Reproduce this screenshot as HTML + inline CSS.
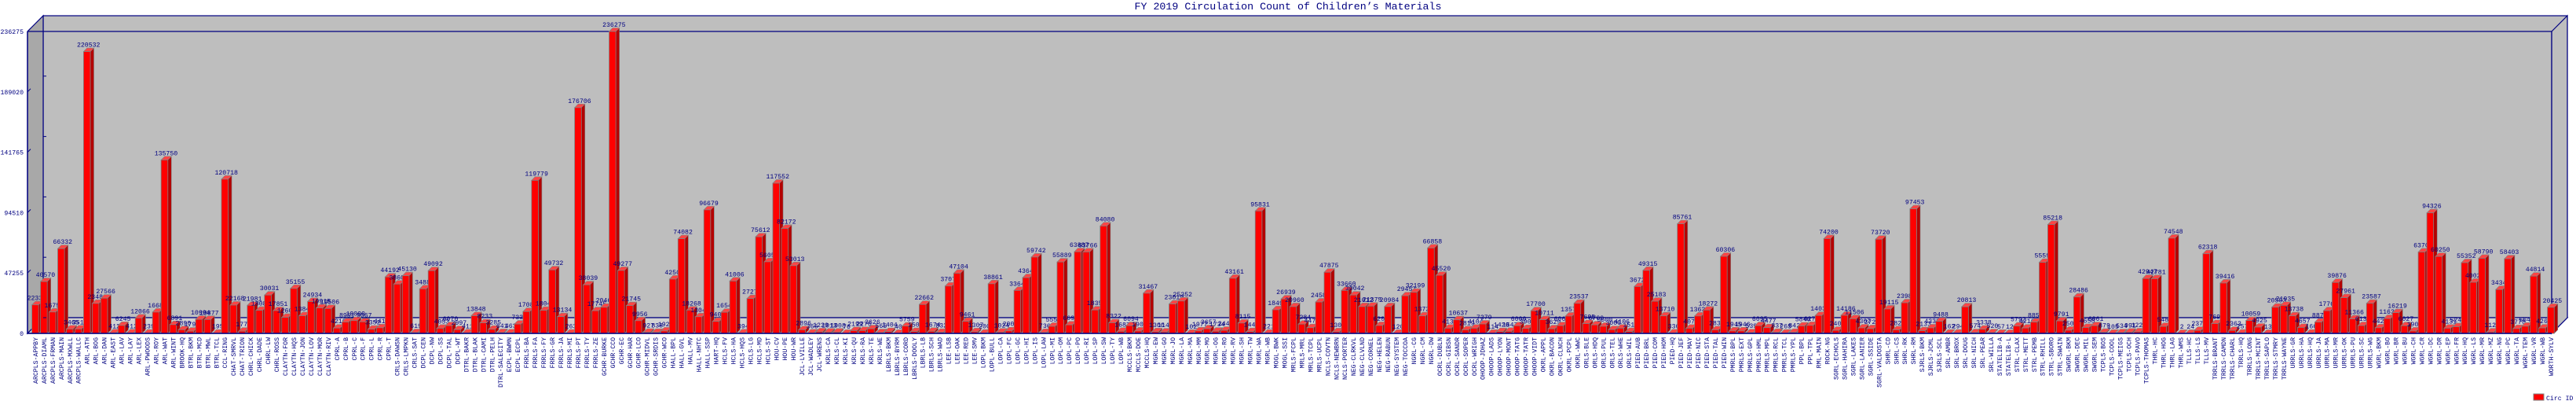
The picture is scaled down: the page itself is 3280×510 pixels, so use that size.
<!DOCTYPE html>
<html><head><meta charset="utf-8"><style>
html,body{margin:0;padding:0;background:#fff;}
svg{display:block;font-family:"Liberation Mono",monospace;}
</style></head><body>
<svg id="chart" width="3280" height="510" viewBox="0 0 3280 510" xmlns="http://www.w3.org/2000/svg">
<text x="1640" y="12" text-anchor="middle" font-size="13.3" fill="#000080">FY 2019 Circulation Count of Children’s Materials</text>
<g id="frame"></g>
<g id="bars"></g>
<g id="axes"></g>
<g>
<rect x="3226" y="501" width="13" height="8" fill="#ff0000" stroke="#808080" stroke-width="1"/>
<text x="3242" y="509" font-size="8.2" fill="#000080">Circ ID</text>
</g>
</svg>
<script>
const categories = ["ARCPLS-APPBY","ARCPLS-DIAML","ARCPLS-FRMAN","ARCPLS-MAIN","ARCPLS-MXWLL","ARCPLS-WALLC","ARL-ATH","ARL-BOG","ARL-DAN","ARL-EAST","ARL-LAV","ARL-LAY","ARL-LEX","ARL-PWOODS","ARL-ROY","ARL-WAT","ARL-WINT","BROOK-HQ","BTRL-BKM","BTRL-MCD","BTRL-MWL","BTRL-TCL","CCL-RING","CHAT-SMRVL","CHAT-TRION","CHRL-CHICK","CHRL-DADE","CHRL-LW","CHRL-ROSS","CLAYTN-FOR","CLAYTN-HQS","CLAYTN-JON","CLAYTN-LOV","CLAYTN-MOR","CLAYTN-RIV","CPRL-A","CPRL-B","CPRL-C","CPRL-F","CPRL-L","CPRL-R","CPRL-T","CRLS-DAWSN","CRLS-LMPKN","CRLS-SAT","DCPL-CEN","DCPL-NW","DCPL-SS","DCPL-TAL","DCPL-WT","DTRL-BAKR","DTRL-BLAK","DTRL-CAMI","DTRL-PELH","DTRL-SALECITY","ECPL-BWMN","ECPL-ECPL","FRRLS-BA","FRRLS-FA","FRRLS-FY","FRRLS-GR","FRRLS-JA","FRRLS-MI","FRRLS-PT","FRRLS-TY","FRRLS-ZE","GCHR-BURKE","GCHR-CCO","GCHR-EC","GCHR-HAR","GCHR-LCO","GCHR-MIDVL","GCHR-SRDIS","GCHR-WCO","HALL-BPL","HALL-GVL","HALL-MV","HALL-NHTC","HALL-SSP","HART-HQ","HCLS-FV","HCLS-HA","HCLS-HQS","HCLS-LG","HCLS-MD","HCLS-ST","HOU-CV","HOU-PE","HOU-WR","JCL-LVILLE","JCL-WADLEY","JCL-WRENS","KRLS-CA","KRLS-CL","KRLS-KI","KRLS-QU","KRLS-RA","KRLS-TE","KRLS-WE","LBRLS-BKM","LBRLS-BYRM","LBRLS-CORD","LBRLS-DOOLY","LBRLS-LB","LBRLS-SCH","LBRLS-WAD","LEE-LSB","LEE-OAK","LEE-RED","LEE-SMV","LOPL-BKM","LOPL-BULL","LOPL-CA","LOPL-FC","LOPL-GC","LOPL-HI","LOPL-IS","LOPL-LAW","LOPL-MI","LOPL-OM","LOPL-PC","LOPL-PO","LOPL-RI","LOPL-SP","LOPL-SW","LOPL-TY","LOPL-WB","MCCLS-BKM","MCCLS-DOE","MCCLS-HQ","MGRL-EW","MGRL-GO","MGRL-JO","MGRL-LA","MGRL-MA","MGRL-MM","MGRL-MO","MGRL-OG","MGRL-RO","MGRL-RV","MGRL-SH","MGRL-TW","MGRL-WA","MGRL-WB","MOGL-BWK","MOGL-SSI","MRLS-FCPL","MRLS-MRL","MRLS-TCPL","MRLS-UCPL","NCLS-COVTN","NCLS-NEWBRN","NCLS-PORTER","NEG-CLRKVL","NEG-CLVLND","NEG-CORNEL","NEG-HELEN","NEG-RABUN","NEG-SYSTEM","NEG-TOCCOA","NGRL-CG","NGRL-CM","NGRL-DW","OCRL-DUBLN","OCRL-GIBSN","OCRL-SANDR","OCRL-SOPER","OCRL-WRIGH","OHOOP-JDHAZ","OHOOP-LADS","OHOOP-LYON","OHOOP-MONT","OHOOP-TATG","OHOOP-TATR","OHOOP-VIDT","OKRL-APPL","OKRL-BACON","OKRL-CLNCH","OKRL-PCPL","OKRL-WWC","ORLS-BLE","ORLS-HDQ","ORLS-PUL","ORLS-TEL","ORLS-WHE","ORLS-WIL","PIED-AUB","PIED-BRL","PIED-COM","PIED-HOM","PIED-HQ","PIED-JEF","PIED-MAY","PIED-NIC","PIED-STA","PIED-TAL","PIED-WIN","PMRLS-BPL","PMRLS-EXT","PMRLS-GPL","PMRLS-HML","PMRLS-MPL","PMRLS-RCL","PMRLS-TCL","PMRLS-YPL","PPL-BPL","PPL-TPL","RML-MAIN","ROCK-NG","SGRL-ECHOLS","SGRL-HAHIRA","SGRL-LAKES","SGRL-LANIER","SGRL-SSIDE","SGRL-VALDOSTA","SHRL-CD","SHRL-CS","SHRL-RK","SHRL-RM","SJRLS-BKM","SJRLS-JCML","SJRLS-SCL","SRL-AMBR","SRL-BROX","SRL-DOUG","SRL-NICH","SRL-PEAR","SRL-WILLA","STATELIB-A","STATELIB-L","STRL-CLAX","STRL-METT","STRL-PEMB","STRL-RHILL","STRL-SBORO","STRL-SWAIN","SWGRL-BKM","SWGRL-DEC","SWGRL-MIL","SWGRL-SEM","TCPLS-BOS","TCPLS-COOL","TCPLS-MEIGS","TCPLS-OCH","TCPLS-PAVO","TCPLS-THOMAS","THRL-HC","THRL-HOG","THRL-LAG","THRL-WMS","TLLS-HC","TLLS-LS","TLLS-MV","TRRLS-BRANT","TRRLS-CAMDN","TRRLS-CHARL","TRRLS-HQ","TRRLS-LONG","TRRLS-MCINT","TRRLS-SAPLO","TRRLS-STMRY","TRRLS-WAYNE","URRLS-GR","URRLS-HA","URRLS-HQ","URRLS-JA","URRLS-MA","URRLS-MR","URRLS-OK","URRLS-PU","URRLS-SC","URRLS-WG","WGRL-BKM","WGRL-BO","WGRL-BR","WGRL-BU","WGRL-CH","WGRL-CR","WGRL-DC","WGRL-DR","WGRL-EP","WGRL-FR","WGRL-HQ","WGRL-LS","WGRL-MR","WGRL-MZ","WGRL-NG","WGRL-PC","WGRL-TA","WGRL-TEM","WGRL-VR","WGRL-WB","WORTH-SYLV"];
const circValues = [22330,40570,16758,66332,3465,3516,220532,23489,27566,412,6245,412,12066,239,16684,135750,6891,2890,1791,10994,10877,195,120718,22168,1773,21981,18088,30031,17851,12601,35155,13845,24934,19915,19506,4210,8951,10000,9067,3352,4412,44192,38603,45130,619,34884,49092,4053,6070,2997,411,13848,8233,3285,641,463,7332,17085,119779,18049,49732,13134,263,176706,38039,17745,20466,236275,49277,21745,9956,927,838,1929,42506,74082,18268,13041,96679,9406,16540,41006,394,27275,75612,56056,117552,82172,53013,2896,366,1229,1013,1008,76,2199,2276,3626,565,1404,40,5759,1503,22662,1674,832,37074,47104,9461,1307,200,38861,1024,2007,33646,43646,59742,736,5557,55889,6691,63887,63766,18352,84080,8322,1687,6094,1907,31467,1300,1142,23019,25352,102,1977,3657,1734,2440,43161,8115,1445,95831,221,18498,26939,20960,7284,4470,24583,47875,1302,33660,30042,21012,21375,6209,20984,120,29457,32199,13724,66858,45520,4132,10637,2819,4104,7379,114,1420,1647,6000,3903,17700,10711,3629,6063,13578,23537,7695,6700,5600,3000,4106,1517,36725,49315,25183,13710,336,85761,4077,13635,18272,2834,60306,1945,1946,539,6095,4477,837,265,842,5840,6277,14030,74200,2407,14186,11506,4307,3727,73720,19115,2821,23987,97453,2133,4332,9488,162,294,20813,574,3338,520,57,12,5792,4216,8859,55596,85218,9791,2501,28486,4658,6061,879,105,534,991,1226,42947,42781,5486,74548,2,24,2370,62318,7690,39416,2363,257,10059,4925,13,20503,21935,13738,4657,166,8876,17763,39876,27961,11366,6135,23587,4427,11634,16219,6027,1903,63702,94326,60250,4131,5246,55352,40022,58790,1125,34342,58403,3770,5642,44814,4264,20425];
const yTickLabels = ["0","47255","94510","141765","189020","236275"];
const yTickValues = [0,47255,94510,141765,189020,236275];
const yMax = 236275;

const NS = "http://www.w3.org/2000/svg";
const FL = 35, FR = 3249, FT = 40, FB = 424, D = 20;
const slot = (FR - FL) / categories.length;
function yScale(v){ return FB - v / yMax * (FB - FT); }
function xScale(i){ return FL + i * slot + 5.6; }
function mk(tag, attrs, parent){ const e = document.createElementNS(NS, tag); for (const k in attrs) e.setAttribute(k, attrs[k]); parent.appendChild(e); return e; }

const frame = document.getElementById('frame');
const back = mk('rect', {x:FL+D, y:FT-D, width:FR-FL, height:FB-FT, fill:'#bebebe', stroke:'#000080', 'stroke-width':1.2}, frame);


const left = mk('polygon', {points:`${FL},${FT} ${FL+D},${FT-D} ${FL+D},${FB-D} ${FL},${FB}`, fill:'#a8a8a8', stroke:'#000080', 'stroke-width':1.2}, frame);


const floor = mk('polygon', {points:`${FL},${FB} ${FR},${FB} ${FR+D},${FB-D} ${FL+D},${FB-D}`, fill:'#d2d2d2', stroke:'#000080', 'stroke-width':1.2}, frame);


const rightw = mk('polygon', {points:`${FR},${FT} ${FR+D},${FT-D} ${FR+D},${FB-D} ${FR},${FB}`, fill:'#bebebe', stroke:'#000080', 'stroke-width':1.2}, frame);


const frontTop = mk('line', {x1:FL, y1:FT, x2:FR, y2:FT, stroke:'#000080', 'stroke-width':1.2}, frame);


const frontRight = mk('line', {x1:FR, y1:FT, x2:FR, y2:FB, stroke:'#000080', 'stroke-width':1.2}, frame);



const bars = document.getElementById('bars');
const bw = 8.6, dd = 4.5;
categories.forEach((c, i) => {
  const v = circValues[i];
  const x = xScale(i), y = yScale(v), h = FB - y;
  const g = mk('g', {}, bars);
  
  
  mk('polygon', {points:`${x+bw},${y} ${x+bw+dd},${y-dd} ${x+bw+dd},${FB-dd} ${x+bw},${FB}`, fill:'#b40000', stroke:'#808080', 'stroke-width':0.6}, g);
  mk('polygon', {points:`${x},${y} ${x+dd},${y-dd} ${x+bw+dd},${y-dd} ${x+bw},${y}`, fill:'#ff4444', stroke:'#808080', 'stroke-width':0.6}, g);
  mk('rect', {x:x, y:y, width:bw, height:h, fill:'#ff0000', stroke:'#808080', 'stroke-width':0.8}, g);
  const vt = mk('text', {x:x+bw/2+2, y:y-6, 'text-anchor':'middle', 'font-size':8.2, fill:'#000080'}, g);
  
  
  vt.textContent = v;
  const lt = mk('text', {x:0, y:0, 'text-anchor':'end', 'font-size':8.2, fill:'#000080', transform:`translate(${x+bw/2+3},429) rotate(-90)`}, g);
  
  
  lt.textContent = c;
});

const axes = document.getElementById('axes');
const yAxis = mk('line', {x1:FL, y1:FT, x2:FL, y2:FB, stroke:'#000080', 'stroke-width':1.4}, axes);


const xAxis = mk('line', {x1:FL, y1:FB, x2:FR, y2:FB, stroke:'#000080', 'stroke-width':1.4}, axes);


yTickValues.forEach((v, i) => {
  const y = yScale(v);
  mk('line', {x1:FL, y1:y, x2:FL+4, y2:y-4, stroke:'#000080', 'stroke-width':1}, axes);
  mk('line', {x1:FL+D, y1:y-D, x2:FL+D+4, y2:y-D, stroke:'#000080', 'stroke-width':1}, axes);
  const t = mk('text', {x:FL-5, y:y+3, 'text-anchor':'end', 'font-size':8.2, fill:'#000080'}, axes);
  
  
  t.textContent = yTickLabels[i];
});
</script>
</body></html>
